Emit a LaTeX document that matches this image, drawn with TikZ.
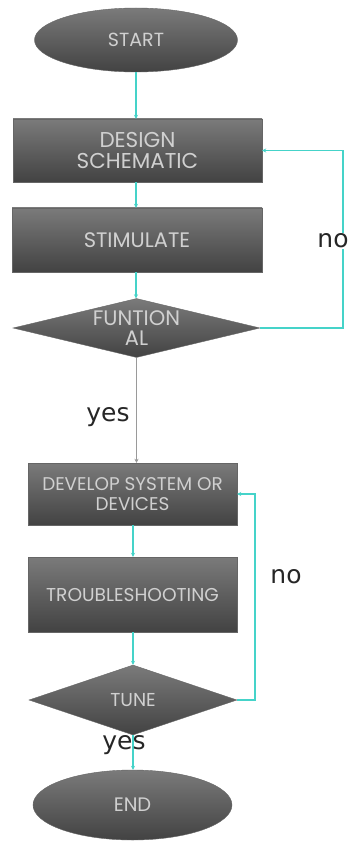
\documentclass[tikz,border=0pt]{standalone}
\usepackage{fontspec}
\setmainfont{Poppins}
\newfontfamily\lblfont{DejaVu Sans}
\usetikzlibrary{shapes.geometric,arrows.meta}
\definecolor{flowcyan}{HTML}{45D3C9}
\definecolor{flowgray}{HTML}{9A9A9A}
\definecolor{boxtext}{HTML}{D0D0D0}
\tikzset{
  shapebase/.style={top color=black!52, bottom color=black!74, draw=black!60, line width=0.4pt,
    text=boxtext, align=center, inner sep=0pt},
  boxnode/.style={shapebase, rectangle},
  ovalnode/.style={shapebase, ellipse},
  decnode/.style={shapebase, diamond},
  dectext/.style={text=boxtext, align=center, inner sep=0pt},
  link/.style={draw=flowcyan, line width=1.3pt, -{Stealth[length=4pt,width=4pt]}},
  graylink/.style={draw=flowgray, line width=1.3pt, -{Stealth[length=4pt,width=4pt,fill=black!70]}},
  lbl/.style={font=\lblfont\fontsize{25}{28}\selectfont, text=black!85, inner sep=0pt}
}
\begin{document}
\begin{tikzpicture}[x=1pt,y=-1pt]
\fill[white] (0,0) rectangle (350,842);
\useasboundingbox (0,0) rectangle (350,842);
\node[ovalnode, minimum width=203pt, minimum height=64pt, font=\fontsize{19}{20}\selectfont] (start) at (136,40) {START};
\node[boxnode, minimum width=249pt, minimum height=63pt, font=\fontsize{21.5}{21}\selectfont] (design) at (137.5,150.5) {DESIGN\\SCHEMATIC};
\node[boxnode, minimum width=250pt, minimum height=64pt, font=\fontsize{21}{21}\selectfont] (stim) at (137,240) {STIMULATE};
\node[decnode, minimum width=247pt, minimum height=59pt,
  label={[dectext, font=\fontsize{21}{20}\selectfont]center:FUNTION\\AL}] (func) at (136.5,328) {};
\node[boxnode, minimum width=209pt, minimum height=62pt, font=\fontsize{18.4}{20}\selectfont] (dev) at (132.5,494) {DEVELOP SYSTEM OR\\DEVICES};
\node[boxnode, minimum width=209pt, minimum height=75pt, font=\fontsize{18.6}{20}\selectfont] (trouble) at (132.5,594.5) {TROUBLESHOOTING};
\node[decnode, minimum width=208pt, minimum height=70pt,
  label={[dectext, font=\fontsize{18.7}{20}\selectfont]center:TUNE}] (tune) at (133,700) {};
\node[ovalnode, minimum width=199pt, minimum height=70pt, font=\fontsize{19.5}{20}\selectfont] (end) at (132.5,805) {END};
\coordinate (c1) at (343,328);
\coordinate (c2) at (255,700);
\draw[link] (start.south) -- (start.south |- design.north);
\draw[link] (design.south -| start.south) -- (start.south |- stim.north);
\draw[link] (stim.south -| start.south) -- (start.south |- func.north);
\draw[graylink] (func.south) -- (func.south |- dev.north);
\draw[link] (func.east) -- (c1) |- (design.east);
\draw[link] (dev.south -| 133,0) -- (133,0 |- trouble.north);
\draw[link] (trouble.south -| 133,0) -- (133,0 |- tune.north);
\draw[link] (tune.south) -- (tune.south |- end.north);
\draw[link] (tune.east) -- (c2) |- (dev.east);
\node[lbl, fill=white, inner ysep=1pt] (no1) at (333,241) {no};
\node[lbl] (yes1) at (108,417) {yes};
\node[lbl] (no2) at (286,577) {no};
\node[lbl] (yes2) at (124,745) {yes};
\end{tikzpicture}
\end{document}
